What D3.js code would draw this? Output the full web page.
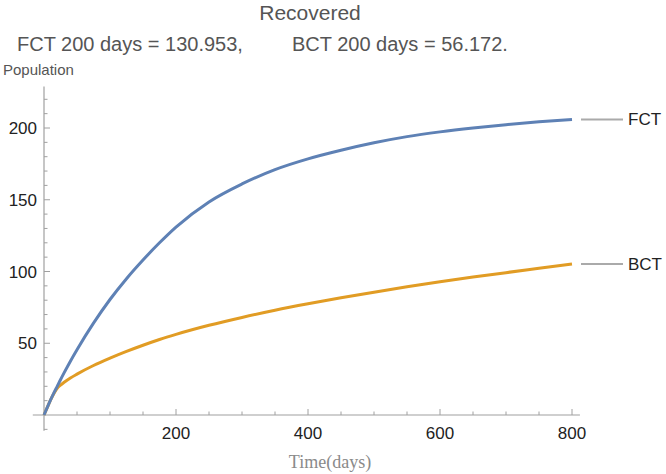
<!DOCTYPE html>
<html>
<head>
<meta charset="utf-8">
<script src="https://cdn.jsdelivr.net/npm/d3@7"></script>
<style>
  body { margin: 0; background: #fff; }
  svg { font-family: 'Liberation Sans', Arial, sans-serif; }
</style>
</head>
<body>
<div id="chart"></div>
<script>
// values
var days = [0, 5, 10, 15, 20, 25, 30, 40, 50, 75, 100, 125, 150, 175, 200, 250, 300, 350, 400, 450, 500, 550, 600, 650, 700, 750, 800];
var fct  = [0, 5.3, 10.5, 15.4, 20, 24.6, 29, 37.5, 45.5, 64, 80.5, 95, 108, 120, 130.953, 148.5, 161, 171, 178.5, 184.5, 189.7, 194, 197.3, 200, 202.3, 204.3, 206];
var bct  = [0, 5.3, 10.5, 15, 18.6, 20.8, 22.6, 25.8, 28.5, 34.5, 39.6, 44.3, 48.6, 52.6, 56.172, 62.5, 68, 73, 77.5, 81.7, 85.6, 89.3, 92.8, 96.1, 99.2, 102.2, 105.2];
var seriesNames = ['FCT', 'BCT'];
var xTicks = [200, 400, 600, 800];
var yTicks = [50, 100, 150, 200];

var W = 666, H = 474;
var svg = d3.select('#chart').append('svg')
  .attr('width', W)
  .attr('height', H);

var x = d3.scaleLinear().domain([0, 800]).range([44, 572]);
var y = d3.scaleLinear().domain([0, 200]).range([415, 128]);

var axisColor = '#a0a0a0';

// axes lines, crossing at the origin
svg.append('line')
  .attr('x1', x(-17)).attr('x2', x(812))
  .attr('y1', y(0)).attr('y2', y(0))
  .style('stroke', axisColor).style('stroke-width', 1.2);
svg.append('line')
  .attr('x1', x(0)).attr('x2', x(0))
  .attr('y1', y(-11)).attr('y2', y(229))
  .style('stroke', axisColor).style('stroke-width', 1.2);

// x ticks
var xMinor = d3.range(50, 801, 50);
svg.selectAll('.xt').data(xMinor).enter().append('line')
  .attr('x1', d => x(d)).attr('x2', d => x(d))
  .attr('y1', y(0)).attr('y2', d => y(0) - (d % 200 === 0 ? 6 : 3.5))
  .style('stroke', axisColor).style('stroke-width', 1);
svg.selectAll('.xl').data(xTicks).enter().append('text')
  .attr('x', d => x(d)).attr('y', y(0) + 24)
  .attr('text-anchor', 'middle')
  .style('font-size', '17px').style('fill', '#222')
  .text(d => d);

// y ticks
var yMinor = d3.range(-10, 221, 10).filter(d => d !== 0);
svg.selectAll('.yt').data(yMinor).enter().append('line')
  .attr('x1', x(0)).attr('x2', d => x(0) + (d % 50 === 0 ? 6 : 3.5))
  .attr('y1', d => y(d)).attr('y2', d => y(d))
  .style('stroke', axisColor).style('stroke-width', 1);
svg.selectAll('.yl').data(yTicks).enter().append('text')
  .attr('x', x(0) - 7).attr('y', d => y(d) + 6)
  .attr('text-anchor', 'end')
  .style('font-size', '17px').style('fill', '#222')
  .text(d => d);

// curves
var line = d3.line()
  .x((d, i) => x(days[i]))
  .y(d => y(d))
  .curve(d3.curveMonotoneX);

var colors = ['#5e81b5', '#e19c24'];
[bct, fct].forEach(function (s, k) {
  svg.append('path')
    .attr('d', line(s))
    .style('fill', 'none')
    .style('stroke', colors[1 - k])
    .style('stroke-width', 3);
});

// labels at right end
[fct, bct].forEach(function (s, k) {
  var yy = y(s[s.length - 1]);
  svg.append('line')
    .attr('x1', 581).attr('x2', 623)
    .attr('y1', yy).attr('y2', yy)
    .style('stroke', '#aaaaaa').style('stroke-width', 2);
  svg.append('text')
    .attr('x', 628).attr('y', yy + 6)
    .style('font-size', '17px').style('fill', '#222')
    .text(seriesNames[k]);
});

// titles
svg.append('text')
  .attr('x', 310).attr('y', 20)
  .attr('text-anchor', 'middle')
  .style('font-size', '21px').style('fill', '#555')
  .text('Recovered');
svg.append('text')
  .attr('x', 17).attr('y', 51)
  .style('font-size', '20px').style('fill', '#555')
  .text('FCT 200 days = 130.953,');
svg.append('text')
  .attr('x', 292).attr('y', 51)
  .style('font-size', '20px').style('fill', '#555')
  .text('BCT 200 days = 56.172.');

// axis labels
svg.append('text')
  .attr('x', 3).attr('y', 75)
  .style('font-size', '15px').style('fill', '#555')
  .text('Population');
svg.append('text')
  .attr('x', 330).attr('y', 468)
  .attr('text-anchor', 'middle')
  .style('font-family', "'Liberation Serif', 'Times New Roman', serif")
  .style('font-size', '18px').style('fill', '#8a8a8a')
  .text('Time(days)');
</script>
</body>
</html>
